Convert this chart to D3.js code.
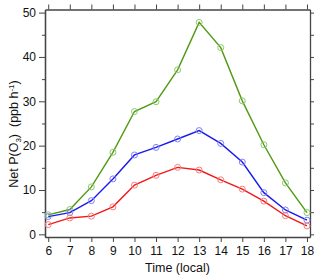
<!DOCTYPE html>
<html>
<head>
<meta charset="utf-8">
<script src="https://cdn.jsdelivr.net/npm/d3@7"></script>
<style>
  body { margin: 0; background: #fff; }
  svg { display: block; font-family: "Liberation Sans", Arial, sans-serif; }
</style>
</head>
<body>
<div id="chart"></div>
<script>
// Hours of the day (local time)
const hours = [6, 7, 8, 9, 10, 11, 12, 13, 14, 15, 16, 17, 18];

// Net ozone production rate, ppb/h
const greenValues = [4.4, 5.6, 10.7, 18.5, 27.7, 29.9, 37.1, 47.8, 42.1, 30.1, 20.2, 11.6, 4.9];
const blueValues  = [4.0, 4.9, 7.6, 12.5, 17.9, 19.6, 21.5, 23.4, 20.5, 16.3, 9.4, 5.5, 3.2];
const redValues   = [2.2, 3.7, 4.1, 6.2, 11.1, 13.3, 15.1, 14.5, 12.3, 10.2, 7.5, 4.2, 1.9];

const yTicks = [0, 10, 20, 30, 40, 50];

const series = [
    { values: greenValues, line: "#4f9a12", marker: "#8cc86a" },
    { values: blueValues,  line: "#1a1aee", marker: "#7f7ff5" },
    { values: redValues,   line: "#f01818", marker: "#f57f7f" }
];

const W = 320, H = 278;
const plot = { left: 45, right: 310, top: 9.5, bottom: 237 };

const x = d3.scaleLinear().domain([5.85, 18.14]).range([plot.left, plot.right]);
const y = d3.scaleLinear().domain([-0.6, 50.7]).range([plot.bottom, plot.top]);

const svg = d3.select("#chart").append("svg")
    .attr("width", W)
    .attr("height", H);

const axisColor = "#444";

// Left axis: major every 10, minor every 5
const left = svg.append("g")
    .attr("transform", `translate(${plot.left},0)`)
    .call(d3.axisLeft(y).tickValues(yTicks).tickSize(6).tickPadding(3).tickSizeOuter(0));
left.append("g").call(d3.axisLeft(y).tickValues([5, 15, 25, 35, 45]).tickSize(3).tickFormat("").tickSizeOuter(0));

// Right axis: ticks every 5, no labels
svg.append("g")
    .attr("transform", `translate(${plot.right},0)`)
    .call(d3.axisRight(y).tickValues(d3.range(0, 51, 5)).tickSize(4).tickFormat("").tickSizeOuter(0));

// Bottom axis
svg.append("g")
    .attr("transform", `translate(0,${plot.bottom})`)
    .call(d3.axisBottom(x).tickValues(hours).tickSize(5).tickPadding(4).tickFormat(d3.format("d")).tickSizeOuter(0));

// Top axis
svg.append("g")
    .attr("transform", `translate(0,${plot.top})`)
    .call(d3.axisTop(x).tickValues(hours).tickSize(5).tickFormat("").tickSizeOuter(0));

svg.selectAll(".domain").attr("stroke", axisColor).attr("stroke-width", 1.3);
svg.selectAll(".tick line").attr("stroke", axisColor);
svg.selectAll(".tick text").attr("font-size", 12).attr("fill", "#111")
    .attr("font-family", "'Liberation Sans', Arial, sans-serif");

// Lines and markers
const line = d3.line()
    .x((d, i) => x(hours[i]))
    .y(d => y(d));

series.forEach(s => {
    svg.append("path")
        .datum(s.values)
        .attr("fill", "none")
        .attr("stroke", s.line)
        .attr("stroke-width", 1.4)
        .attr("d", line);

    svg.append("g")
        .selectAll("circle")
        .data(s.values)
        .join("circle")
        .attr("cx", (d, i) => x(hours[i]))
        .attr("cy", d => y(d))
        .attr("r", 3)
        .attr("fill", "none")
        .attr("stroke", s.marker)
        .attr("stroke-width", 1);
});

// Axis titles
svg.append("text")
    .attr("x", (plot.left + plot.right) / 2)
    .attr("y", 272)
    .attr("text-anchor", "middle")
    .attr("font-size", 12.5)
    .attr("fill", "#111")
    .text("Time (local)");

const yl = svg.append("text")
    .attr("transform", "translate(18,134) rotate(-90)")
    .attr("text-anchor", "middle")
    .attr("font-size", 12.5)
    .attr("fill", "#111");
yl.append("tspan").text("Net P(O");
yl.append("tspan").attr("font-size", 8).attr("dy", 3).text("3");
yl.append("tspan").attr("dy", -3).text(")\u00a0\u00a0(ppb h");
yl.append("tspan").attr("font-size", 8).attr("dy", -4).text("-1");
yl.append("tspan").attr("dy", 4).text(")");
</script>
</body>
</html>
